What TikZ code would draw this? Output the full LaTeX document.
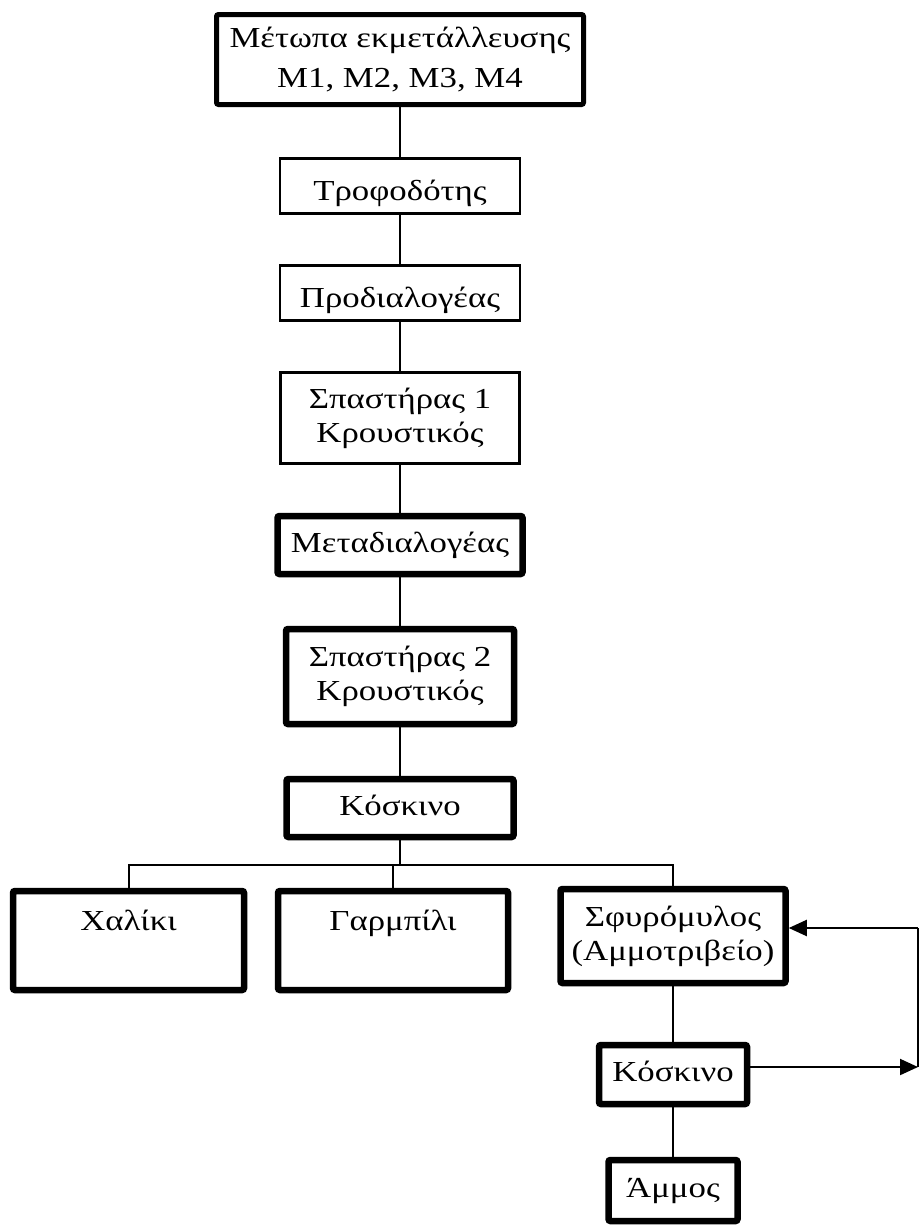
\documentclass[tikz,border=0pt]{standalone}
\usepackage{fontspec}
\setmainfont{Liberation Serif}[FakeStretch=1.2]
\usetikzlibrary{arrows.meta}

\begin{document}
\begin{tikzpicture}[x=1pt, y=-1pt,
    every node/.style={font=\fontsize{29}{34}\selectfont},
    litebox/.style={draw, line width=2.5pt, align=center, inner sep=0pt},
    heavybox/.style={draw, line width=6.5pt, rounded corners=2pt, align=center, inner sep=0pt},
    oneline/.style={text height=20pt, text depth=6pt},
    link/.style={line width=2pt},
    feed/.style={line width=2pt, -{Triangle[length=18pt, width=16pt]}}]

\useasboundingbox (0,0) rectangle (920,1226);

% --- MAIN LINE (crushing stages) ---
\node[heavybox, line width=5pt, minimum width=367pt, minimum height=90pt, font=\fontsize{29}{40}\selectfont] (front) at (400,59.5) {Μέτωπα εκμετάλλευσης\\M1, M2, M3, M4};
\node[litebox, text height=34pt, text depth=6pt, minimum width=240pt, minimum height=55pt] (feeder) at (400,186) {Τροφοδότης};
\node[litebox, text height=34pt, text depth=6pt, minimum width=240pt, minimum height=55pt] (presort) at (400,293) {Προδιαλογέας};
\node[litebox, minimum width=239pt, minimum height=91pt] (crushA) at (400,418) {Σπαστήρας 1\\Κρουστικός};
\node[heavybox, oneline, minimum width=245pt, minimum height=58pt] (postsort) at (400,545) {Μεταδιαλογέας};
\node[heavybox, minimum width=228pt, minimum height=95pt] (crushB) at (400,676.5) {Σπαστήρας 2\\Κρουστικός};
\node[heavybox, oneline, minimum width=227pt, minimum height=58pt] (sieveA) at (400,808) {Κόσκινο};

\draw[link] (front) -- (feeder);
\draw[link] (feeder) -- (presort);
\draw[link] (presort) -- (crushA);
\draw[link] (crushA) -- (postsort);
\draw[link] (postsort) -- (crushB);
\draw[link] (crushB) -- (sieveA);

% --- PRODUCTS ---
\node[heavybox, text height=20pt, text depth=41pt, minimum width=231pt, minimum height=99pt] (gravel) at (128.5,940.5) {Χαλίκι};
\node[heavybox, text height=20pt, text depth=41pt, minimum width=230pt, minimum height=99pt] (grit) at (393,940.5) {Γαρμπίλι};
\node[heavybox, minimum width=225pt, minimum height=94pt] (mill) at (673,936) {Σφυρόμυλος\\(Αμμοτριβείο)};

\coordinate (split) at (400,865);
\draw[link] (sieveA) -- (split);
\draw[link] (gravel.north) |- (split) -| (mill.north);
\draw[link] (grit.north) -- (grit.north |- split);

% --- SAND LINE ---
\node[heavybox, oneline, minimum width=148pt, minimum height=59pt] (sieveB) at (673,1074.5) {Κόσκινο};
\node[heavybox, oneline, minimum width=129pt, minimum height=61pt] (sand) at (673,1190.5) {Άμμος};

\draw[link] (mill) -- (sieveB);
\draw[link] (sieveB) -- (sand);

% --- RETURN LOOP ---
\coordinate (loopTop) at (918,928);
\coordinate (loopBot) at (918,1067);
\draw[feed] (sieveB.east |- loopBot) -- (loopBot);
\draw[link] (loopBot) -- (loopTop);
\draw[feed] (loopTop) -- (mill.east |- loopTop);

\end{tikzpicture}
\end{document}
